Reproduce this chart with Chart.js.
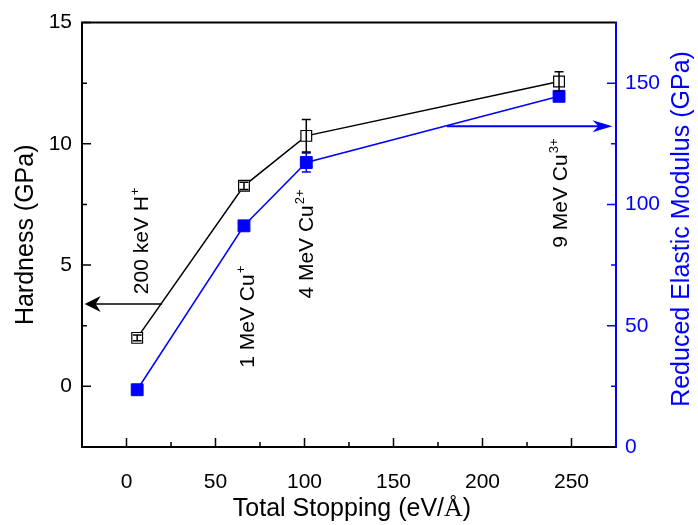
<!DOCTYPE html>
<html>
<head>
<meta charset="utf-8">
<script src="https://cdn.jsdelivr.net/npm/chart.js@4.4.0/dist/chart.umd.min.js"></script>
<style>
  html, body { margin: 0; padding: 0; background: #fff; }
  canvas { display: block; }
</style>
</head>
<body>
<canvas id="c" width="698" height="525"></canvas>
<script>
// Total stopping power of each irradiation (eV/Å)
const stopping = [6, 66, 101, 243];
// Nanoindentation hardness (GPa) and its uncertainty
const hardness = [2.0, 8.27, 10.33, 12.57];
const hardnessErr = [0.12, 0.15, 0.67, 0.4];
// Reduced elastic modulus (GPa) and its uncertainty
const modulus = [23.6, 91.2, 117.3, 144.6];
const modulusErr = [1.0, 1.0, 3.9, 1.2];
// Major tick values of the three axes
const xTicks = [0, 50, 100, 150, 200, 250];
const hardTicks = [0, 5, 10, 15];
const modTicks = [0, 50, 100, 150];
// Ion species of each irradiation
const ionNames = ['200 keV H', '1 MeV Cu', '4 MeV Cu', '9 MeV Cu'];
const ionCharges = ['+', '+', '2+', '3+'];

// Where each rotated ion label starts (stopping, hardness)
const ionAnchors = [[12.1, 3.8], [71.9, 0.77], [104.8, 3.62], [247.5, 5.72]];
// Arrows pointing each curve to its own axis
const hardArrow = { from: 20, to: -23.5, at: 3.4 };     // hardness units
const modArrow = { from: 180, to: 273, at: 132.3 };     // modulus units

const SANS = '"Liberation Sans", Arial, Helvetica, sans-serif';
const BLUE = '#0000ff';
Chart.defaults.font.family = SANS;

function minorValues(majors, min, max) {
  const step = majors[1] - majors[0];
  const out = [];
  for (let v = majors[0] - step / 2; v < max; v += step) {
    if (v > min && v < max) out.push(v);
  }
  return out;
}

function errBar(ctx, xs, ys, x, y, e, cap) {
  const px = xs.getPixelForValue(x);
  const y1 = ys.getPixelForValue(y - e), y2 = ys.getPixelForValue(y + e);
  ctx.beginPath();
  ctx.moveTo(px, y1); ctx.lineTo(px, y2);
  ctx.moveTo(px - cap, y1); ctx.lineTo(px + cap, y1);
  ctx.moveTo(px - cap, y2); ctx.lineTo(px + cap, y2);
  ctx.stroke();
}

function arrow(ctx, x0, x1, y, len, half, notch) {
  const dir = Math.sign(x1 - x0);
  ctx.beginPath();
  ctx.moveTo(x0, y);
  ctx.lineTo(x1 - dir * notch, y);
  ctx.stroke();
  ctx.beginPath();
  ctx.moveTo(x1, y);
  ctx.lineTo(x1 - dir * len, y - half);
  ctx.lineTo(x1 - dir * (len - notch), y);
  ctx.lineTo(x1 - dir * len, y + half);
  ctx.closePath();
  ctx.fill();
}

function ionLabel(ctx, px, py, name, charge) {
  ctx.save();
  ctx.translate(px, py);
  ctx.rotate(-Math.PI / 2);
  ctx.fillStyle = '#000';
  ctx.textAlign = 'left';
  ctx.textBaseline = 'alphabetic';
  ctx.font = '21px ' + SANS;
  ctx.fillText(name, 0, 0);
  const w = ctx.measureText(name).width;
  ctx.font = '13px ' + SANS;
  ctx.fillText(charge, w + 1, -9);
  ctx.restore();
}

const decor = {
  id: 'decor',
  afterDatasetsDraw(chart) {
    const ctx = chart.ctx;
    const xs = chart.scales.x, ys = chart.scales.y, ys2 = chart.scales.y2;
    ctx.save();
    // error bars
    ctx.lineWidth = 1.5;
    ctx.strokeStyle = BLUE;
    stopping.forEach((x, i) => errBar(ctx, xs, ys2, x, modulus[i], modulusErr[i], 4.5));
    ctx.strokeStyle = '#000';
    stopping.forEach((x, i) => errBar(ctx, xs, ys, x, hardness[i], hardnessErr[i], 4.5));

    // axis arrows
    ctx.lineWidth = 1.5;
    ctx.strokeStyle = '#000'; ctx.fillStyle = '#000';
    arrow(ctx, xs.getPixelForValue(hardArrow.from), xs.getPixelForValue(hardArrow.to),
          ys.getPixelForValue(hardArrow.at), 16, 8, 5);
    ctx.lineWidth = 2;
    ctx.strokeStyle = BLUE; ctx.fillStyle = BLUE;
    arrow(ctx, xs.getPixelForValue(modArrow.from), xs.getPixelForValue(modArrow.to),
          ys2.getPixelForValue(modArrow.at), 20, 6, 6);

    // ion labels
    ionNames.forEach((n, i) => {
      ionLabel(ctx, xs.getPixelForValue(ionAnchors[i][0]), ys.getPixelForValue(ionAnchors[i][1]), n, ionCharges[i]);
    });
    ctx.restore();
  },
  afterDraw(chart) {
    const ctx = chart.ctx;
    const a = chart.chartArea;
    const xs = chart.scales.x, ys = chart.scales.y, ys2 = chart.scales.y2;
    ctx.save();
    ctx.lineCap = 'butt';

    // inward ticks
    const tick = (color, list, fn) => {
      ctx.strokeStyle = color; ctx.lineWidth = 1.5;
      ctx.beginPath(); list.forEach(fn); ctx.stroke();
    };
    tick('#000', xTicks, v => { const p = xs.getPixelForValue(v); ctx.moveTo(p, a.bottom); ctx.lineTo(p, a.bottom - 9); });
    tick('#000', minorValues(xTicks, xs.min, xs.max), v => { const p = xs.getPixelForValue(v); ctx.moveTo(p, a.bottom); ctx.lineTo(p, a.bottom - 5); });
    tick('#000', hardTicks, v => { const p = ys.getPixelForValue(v); ctx.moveTo(a.left, p); ctx.lineTo(a.left + 9, p); });
    tick('#000', minorValues(hardTicks, ys.min, ys.max), v => { const p = ys.getPixelForValue(v); ctx.moveTo(a.left, p); ctx.lineTo(a.left + 5, p); });
    tick(BLUE, modTicks, v => { const p = ys2.getPixelForValue(v); ctx.moveTo(a.right, p); ctx.lineTo(a.right - 9, p); });
    tick(BLUE, minorValues(modTicks, ys2.min, ys2.max), v => { const p = ys2.getPixelForValue(v); ctx.moveTo(a.right, p); ctx.lineTo(a.right - 5, p); });

    // frame
    ctx.lineWidth = 2;
    ctx.strokeStyle = '#000';
    ctx.beginPath();
    ctx.moveTo(a.right - 1, a.top); ctx.lineTo(a.left, a.top); ctx.lineTo(a.left, a.bottom); ctx.lineTo(a.right - 1, a.bottom);
    ctx.stroke();
    ctx.strokeStyle = BLUE;
    ctx.beginPath();
    ctx.moveTo(a.right, a.top - 1); ctx.lineTo(a.right, a.bottom + 1);
    ctx.stroke();

    // x axis title (Ångström sign set in a serif face)
    const parts = [['Total Stopping (eV/', '25px ' + SANS], ['Å', '26px "Liberation Serif", "Times New Roman", serif'], [')', '25px ' + SANS]];
    let total = 0;
    parts.forEach(p => { ctx.font = p[1]; total += ctx.measureText(p[0]).width; });
    let x = 352 - total / 2;
    ctx.fillStyle = '#000';
    ctx.textBaseline = 'alphabetic';
    ctx.textAlign = 'left';
    parts.forEach(p => { ctx.font = p[1]; ctx.fillText(p[0], x, 516); x += ctx.measureText(p[0]).width; });

    // right axis title, reading upward
    ctx.translate(682, 229);
    ctx.rotate(-Math.PI / 2);
    ctx.font = '25px ' + SANS;
    ctx.fillStyle = BLUE;
    ctx.textAlign = 'center';
    ctx.textBaseline = 'middle';
    ctx.fillText('Reduced Elastic Modulus (GPa)', 0, 0);
    ctx.restore();
  }
};

const setTicks = list => s => { s.ticks = list.map(v => ({ value: v })); };

new Chart(document.getElementById('c'), {
  type: 'scatter',
  data: {
    datasets: [
      {
        label: 'Hardness',
        data: stopping.map((x, i) => ({ x, y: hardness[i] })),
        yAxisID: 'y',
        showLine: true,
        borderColor: '#000',
        borderWidth: 1.5,
        pointStyle: 'rect',
        pointRadius: 7.6,
        pointBackgroundColor: '#fff',
        pointBorderColor: '#000',
        pointBorderWidth: 1.2
      },
      {
        label: 'Reduced modulus',
        data: stopping.map((x, i) => ({ x, y: modulus[i] })),
        yAxisID: 'y2',
        showLine: true,
        borderColor: BLUE,
        borderWidth: 1.5,
        pointStyle: 'rect',
        pointRadius: 8.4,
        pointBackgroundColor: BLUE,
        pointBorderColor: BLUE,
        pointBorderWidth: 1
      }
    ]
  },
  options: {
    responsive: false,
    animation: false,
    devicePixelRatio: 1,
    layout: { padding: { top: 17, left: 0, right: 0, bottom: 0 } },
    plugins: { legend: { display: false }, tooltip: { enabled: false } },
    scales: {
      x: {
        type: 'linear', position: 'bottom', min: -25, max: 275,
        afterBuildTicks: setTicks(xTicks),
        afterFit: s => { s.height = 78; },
        grid: { display: false, drawTicks: false },
        border: { display: false },
        ticks: { padding: 23, color: '#000', font: { size: 21 } },
        title: { display: false }
      },
      y: {
        type: 'linear', position: 'left', min: -2.5, max: 15,
        afterBuildTicks: setTicks(hardTicks),
        afterFit: s => { s.width = 82; },
        grid: { display: false, drawTicks: false },
        border: { display: false },
        ticks: { padding: 10, color: '#000', font: { size: 21 } },
        title: { display: true, text: 'Hardness (GPa)', color: '#000', font: { size: 25 }, padding: { top: 11, bottom: 0 } }
      },
      y2: {
        type: 'linear', position: 'right', min: 0, max: 175,
        afterBuildTicks: setTicks(modTicks),
        afterFit: s => { s.width = 82; },
        grid: { display: false, drawTicks: false },
        border: { display: false },
        ticks: { padding: 9, color: BLUE, font: { size: 21 } },
        title: { display: false }
      }
    }
  },
  plugins: [decor]
});
</script>
</body>
</html>
